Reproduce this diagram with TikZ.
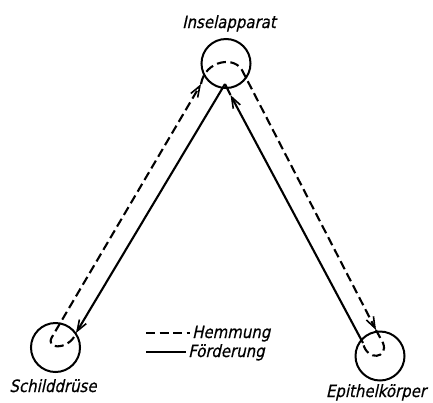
\documentclass[tikz,border=0pt]{standalone}
\usepackage{fontspec}
\newfontfamily\lab{DejaVu Sans}[FakeSlant=0.22,FakeStretch=0.88,FakeBold=0.6]
\usetikzlibrary{arrows.meta}
\begin{document}
\begin{tikzpicture}[x=1pt,y=-1pt,
  organ/.style={circle,draw,line width=2pt,minimum size=49pt,inner sep=0pt},
  lbl/.style={font=\lab\fontsize{17}{19}\selectfont,inner sep=0pt},
  hem/.style={line width=2.1pt,dash pattern=on 9pt off 4.5pt},
  foe/.style={line width=2.1pt},
  arrowend/.style={-{Straight Barb[length=11pt,width=8pt,line width=1.6pt]}}
]
\useasboundingbox (0,0) rectangle (433,402);
% organs
\node[organ] (T) at (226,63.5) {};
\node[organ] (S) at (55.5,347.5) {};
\node[organ] (E) at (380,356) {};
% labels
\node[lbl,anchor=base] (tI) at (229,28) {Inselapparat};
\node[lbl,anchor=base] (tS) at (53,392) {Schilddrüse};
\node[lbl,anchor=base] (tE) at (376,397) {Epithelkörper};
% connector end points
\coordinate (apex) at (225,84);
\coordinate (sTip) at (76,333);
\coordinate (sU) at (74,337);
\coordinate (sD) at (52,337);
\coordinate (tL) at (201,84);
\coordinate (tR) at (243,72);
\coordinate (eTip) at (376,330);
\coordinate (eU) at (383,343);
\coordinate (eS) at (363,343);
\coordinate (rTip) at (230.5,95);
% inhibition (dashed)
\draw[hem,arrowend] (sU) .. controls (66,350) and (45,349) .. (sD) -- (tL);
\draw[hem,arrowend] (tL) .. controls (205,60) and (236,55) .. (tR) -- (eTip);
\draw[hem] (eTip) -- (eU) .. controls (389,358) and (367,362) .. (eS);
% promotion (solid)
\draw[foe,arrowend] (apex) -- (sTip);
\draw[foe,arrowend] (eS) -- (rTip);
\draw[foe] (rTip) -- (apex);
% legend
\coordinate (h1) at (146,333);
\coordinate (h2) at (190,333);
\coordinate (f1) at (146,352);
\coordinate (f2) at (186,352);
\draw[hem] (h1) -- (h2);
\draw[foe] (f1) -- (f2);
\node[lbl,anchor=base west] (tH) at (192,338) {Hemmung};
\node[lbl,anchor=base west] (tF) at (188,357) {Förderung};
\end{tikzpicture}
\end{document}
